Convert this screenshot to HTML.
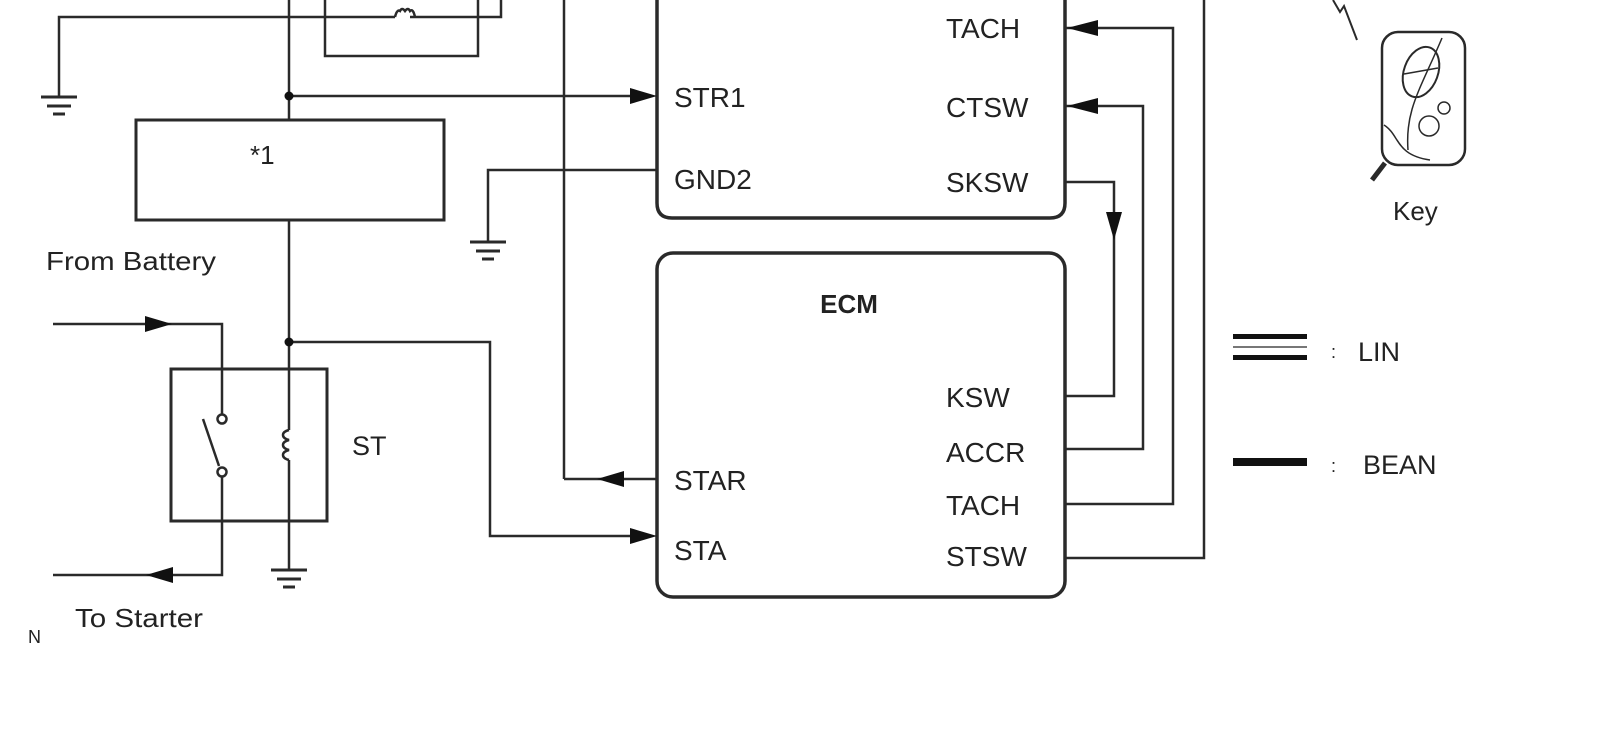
<!DOCTYPE html>
<html><head><meta charset="utf-8"><style>
html,body{margin:0;padding:0;background:#fff;}
svg{display:block;}
text{font-family:"Liberation Sans",sans-serif;fill:#222;}
</style></head><body>
<svg width="1610" height="744" viewBox="0 0 1610 744" xmlns="http://www.w3.org/2000/svg">
<g stroke="#2a2a2a" stroke-width="2.5" fill="none">
<!-- top left wires -->
<polyline points="59,97 59,17 395,17"/>
<polyline points="410,17 501,17 501,0"/>
<path d="M395,17 q2,-8 5,-6 q2,-4 5,0 q3,-4 5,0 q3,-3 5,6" />
<rect x="325" y="-10" width="153" height="66"/>
<line x1="289" y1="0" x2="289" y2="120"/>
<line x1="289" y1="96" x2="635" y2="96"/>
<rect x="136" y="120" width="308" height="100" stroke-width="3"/>
<line x1="289" y1="220" x2="289" y2="430"/>
<line x1="289" y1="460" x2="289" y2="570"/>
<path d="M289,430 c-8,2 -8,8 0,10 c-8,2 -8,8 0,10 c-8,2 -8,8 0,10"/>
<line x1="564" y1="0" x2="564" y2="479"/>
<line x1="564" y1="479" x2="657" y2="479"/>
<polyline points="657,170 488,170 488,242"/>
<!-- ST relay -->
<rect x="171" y="369" width="156" height="152" stroke-width="3"/>
<polyline points="53,324 222,324 222,415"/>
<polyline points="53,575 222,575 222,476"/>
<circle cx="222" cy="419" r="4.5" fill="#fff"/>
<circle cx="222" cy="472" r="4.5" fill="#fff"/>
<line x1="203" y1="419" x2="219" y2="466"/>
<polyline points="289,342 490,342 490,536 635,536"/>
<!-- ECM right wires -->
<polyline points="1065,28 1173,28 1173,504 1065,504"/>
<polyline points="1065,106 1143,106 1143,449 1065,449"/>
<polyline points="1065,182 1114,182 1114,396 1065,396"/>
<polyline points="1204,0 1204,558 1065,558"/>
<!-- boxes -->
<path d="M657,-10 L657,203 Q657,218 672,218 L1050,218 Q1065,218 1065,203 L1065,-10" stroke-width="3.5"/>
<rect x="657" y="253" width="408" height="344" rx="16" stroke-width="3.5"/>
<!-- key -->
<rect x="1382" y="32" width="83" height="133" rx="16" stroke-width="2.5"/>
<ellipse cx="1421" cy="72" rx="17" ry="26" transform="rotate(20 1421 72)" stroke-width="2"/>
<line x1="1404" y1="74" x2="1438" y2="68" stroke-width="1.5"/>
<circle cx="1444" cy="108" r="6" stroke-width="1.5"/>
<circle cx="1429" cy="126" r="10" stroke-width="1.5"/>
<path d="M1442,38 C1420,90 1405,110 1408,150" stroke-width="1.5"/>
<path d="M1384,125 C1400,135 1395,155 1430,160" stroke-width="1.5"/>
<line x1="1385" y1="163" x2="1372" y2="180" stroke-width="5"/>
<polyline points="1333,0 1340,12 1344,6 1357,40" stroke-width="2"/>
</g>
<g fill="#111">
<circle cx="289" cy="96" r="4.5"/>
<circle cx="289" cy="342" r="4.5"/>
<polygon points="657,96 630,88 630,104"/>
<polygon points="597,479 624,471 624,487"/>
<polygon points="657,536 630,528 630,544"/>
<polygon points="172,324 145,316 145,332"/>
<polygon points="146,575 173,567 173,583"/>
<polygon points="1067,28 1098,20 1098,36"/>
<polygon points="1067,106 1098,98 1098,114"/>
<polygon points="1114,240 1106,212 1122,212"/>
</g>
<!-- grounds -->
<g stroke="#2a2a2a" stroke-width="3">
<line x1="41" y1="97" x2="77" y2="97"/><line x1="47" y1="106" x2="71" y2="106"/><line x1="53" y1="114" x2="65" y2="114"/>
<line x1="470" y1="242" x2="506" y2="242"/><line x1="476" y1="251" x2="500" y2="251"/><line x1="482" y1="259" x2="494" y2="259"/>
<line x1="271" y1="570" x2="307" y2="570"/><line x1="277" y1="579" x2="301" y2="579"/><line x1="283" y1="587" x2="295" y2="587"/>
</g>
<!-- legend -->
<g fill="#111">
<rect x="1233" y="334" width="74" height="5"/>
<rect x="1233" y="346" width="74" height="2" fill="#777"/>
<rect x="1233" y="355" width="74" height="5"/>
<rect x="1233" y="458" width="74" height="8"/>
</g>
<g font-size="28">
<text x="1331" y="358" font-size="18">:</text>
<text x="1358" y="361" font-size="27">LIN</text>
<text x="1331" y="472" font-size="18">:</text>
<text x="1363" y="474" font-size="27">BEAN</text>
<text x="946" y="38">TACH</text>
<text x="946" y="117">CTSW</text>
<text x="946" y="192">SKSW</text>
<text x="674" y="107">STR1</text>
<text x="674" y="189">GND2</text>
<text x="849" y="313" font-weight="bold" font-size="26" text-anchor="middle">ECM</text>
<text x="946" y="407">KSW</text>
<text x="946" y="462">ACCR</text>
<text x="946" y="515">TACH</text>
<text x="946" y="566">STSW</text>
<text x="674" y="490">STAR</text>
<text x="674" y="560">STA</text>
<text x="352" y="455" font-size="27">ST</text>
<text x="250" y="164" font-size="26">*1</text>
<text x="46" y="270" font-size="26" textLength="170" lengthAdjust="spacingAndGlyphs">From Battery</text>
<text x="75" y="627" font-size="26" textLength="128" lengthAdjust="spacingAndGlyphs">To Starter</text>
<text x="28" y="643" font-size="18">N</text>
<text x="1393" y="220" font-size="26">Key</text>
</g>
</svg>
</body></html>
